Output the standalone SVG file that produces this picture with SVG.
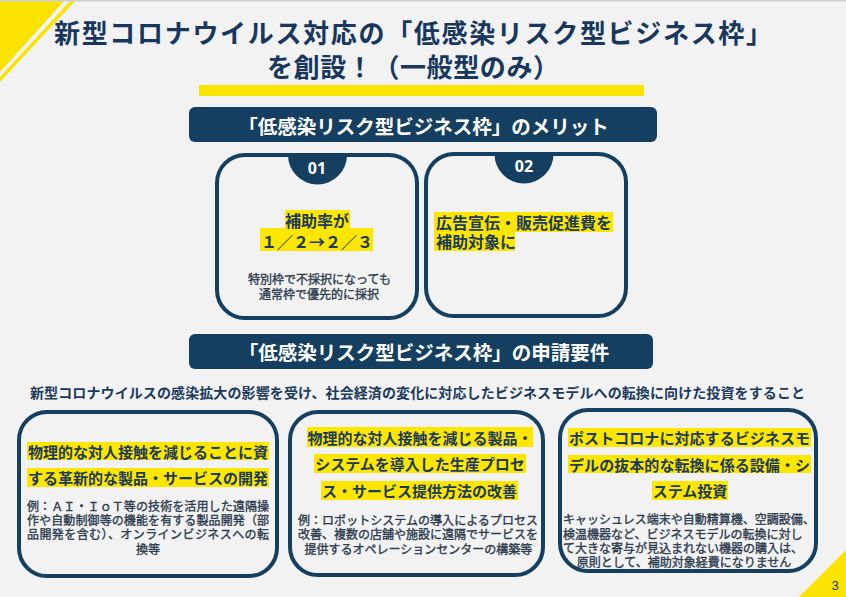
<svg xmlns="http://www.w3.org/2000/svg" width="846" height="597" viewBox="0 0 846 597">
<style>
text{font-family:"Noto Sans CJK JP","Noto Sans CJK SC",sans-serif;}
.bg{fill:#f2f2f2;}
.deco{fill:#fbe300;}
.hdr{fill:#143f60;}
.hdrt{fill:#ffffff;font-weight:700;font-size:19.5px;text-anchor:middle;dominant-baseline:central;}
.box{fill:none;stroke:#143f60;stroke-width:4;}
.tab{fill:#143f60;}
.tabt{fill:#ffffff;font-weight:700;font-size:16px;text-anchor:middle;dominant-baseline:central;font-family:"Noto Sans","Liberation Sans",sans-serif;}
.hl{fill:#fde600;}
.ht{fill:#1b3a5c;font-weight:700;font-size:15px;dominant-baseline:central;}
.m{text-anchor:middle;}
.st{fill:#2c3b4e;stroke:#2c3b4e;stroke-width:0.35px;font-weight:400;font-size:12px;dominant-baseline:central;}
.title{fill:#17375e;font-weight:700;font-size:26px;text-anchor:middle;dominant-baseline:central;}
</style>
<rect class="bg" x="0" y="0" width="846" height="597"/>
<g id="decoration">
<polygon class="deco" points="0,0 65,0 0,72"/>
<polygon class="deco" points="71,0 76,0 0,82 0,77"/>
<polygon class="deco" points="846,550 846,597 799,597"/>
<rect x="0" y="0" width="846" height="1.5" fill="#cfcfcf"/>
<text x="835" y="585" font-size="13" fill="#1f3864" text-anchor="middle" dominant-baseline="central" style="font-family:'Liberation Sans',sans-serif">3</text>
</g>
<g id="title">
<text class="title" x="413" y="31" textLength="718" lengthAdjust="spacing">新型コロナウイルス対応の「低感染リスク型ビジネス枠」</text>
<text class="title" x="413" y="65" textLength="292" lengthAdjust="spacing">を創設！（一般型のみ）</text>
<rect class="deco" x="199" y="85" width="445" height="11"/>
</g>
<g id="merit-header">
<rect class="hdr" x="189" y="107" width="468" height="35" rx="6"/>
<text class="hdrt" x="423.5" y="125">「低感染リスク型ビジネス枠」のメリット</text>
</g>
<g id="merit-01">
<rect class="box" x="217" y="155" width="200" height="163" rx="28"/>
<path class="tab" d="M288,155 A29.5,29.5 0 0 0 347,155 Z"/>
<text class="tabt" x="317" y="168">01</text>
<rect class="hl" x="285" y="210" width="65" height="18"/>
<rect class="hl" x="260" y="228" width="113" height="23"/>
<text class="ht m" x="317" y="220" style="font-size:16px">補助率が</text>
<text class="ht m" x="317" y="241" style="font-size:16px">１／２→２／３</text>
<text class="st m" x="319.5" y="278">特別枠で不採択になっても</text>
<text class="st m" x="319" y="293">通常枠で優先的に採択</text>
</g>
<g id="merit-02">
<rect class="box" x="426" y="154" width="200" height="162" rx="28"/>
<path class="tab" d="M494.5,154 A29.5,29.5 0 0 0 553.5,154 Z"/>
<text class="tabt" x="524" y="166">02</text>
<rect class="hl" x="434" y="212" width="179" height="20"/>
<rect class="hl" x="434" y="232" width="81" height="19"/>
<text class="ht" x="436" y="222" style="font-size:16px">広告宣伝・販売促進費を</text>
<text class="ht" x="436" y="241" style="font-size:16px">補助対象に</text>
</g>
<g id="req-header">
<rect class="hdr" x="189" y="334" width="464" height="35" rx="6"/>
<text class="hdrt" x="424" y="351.5">「低感染リスク型ビジネス枠」の申請要件</text>
</g>
<g id="req-summary">
<text x="417.5" y="392" font-size="14" font-weight="700" fill="#1b3a5c" text-anchor="middle" dominant-baseline="central" textLength="775" lengthAdjust="spacing">新型コロナウイルスの感染拡大の影響を受け、社会経済の変化に対応したビジネスモデルへの転換に向けた投資をすること</text>
</g>
<g id="req-a">
<rect class="box" x="19" y="412" width="258" height="164" rx="28"/>
<rect class="hl" x="27" y="442" width="242" height="18"/>
<rect class="hl" x="27" y="468" width="242" height="19"/>
<text class="ht m" x="148" y="451" textLength="240" lengthAdjust="spacing">物理的な対人接触を減じることに資</text>
<text class="ht m" x="148" y="477.5" textLength="240" lengthAdjust="spacing">する革新的な製品・サービスの開発</text>
<text class="st m" x="148" y="505.5" textLength="242" lengthAdjust="spacing">例：ＡＩ・ＩｏＴ等の技術を活用した遠隔操</text>
<text class="st m" x="148" y="519" textLength="242" lengthAdjust="spacing">作や自動制御等の機能を有する製品開発（部</text>
<text class="st m" x="148" y="533" textLength="242" lengthAdjust="spacing">品開発を含む）、オンラインビジネスへの転</text>
<text class="st m" x="148" y="548">換等</text>
</g>
<g id="req-b">
<rect class="box" x="290" y="412" width="253" height="163" rx="28"/>
<rect class="hl" x="307" y="427" width="226" height="20"/>
<rect class="hl" x="314" y="454" width="212" height="19"/>
<rect class="hl" x="321" y="481" width="197" height="19"/>
<text class="ht m" x="420" y="437">物理的な対人接触を減じる製品・</text>
<text class="ht m" x="420" y="463.5">システムを導入した生産プロセ</text>
<text class="ht m" x="419.5" y="490.5">ス・サービス提供方法の改善</text>
<text class="st m" x="418" y="519" textLength="240" lengthAdjust="spacing">例：ロボットシステムの導入によるプロセス</text>
<text class="st m" x="418" y="533" textLength="240" lengthAdjust="spacing">改善、複数の店舗や施設に遠隔でサービスを</text>
<text class="st m" x="418.5" y="548">提供するオペレーションセンターの構築等</text>
</g>
<g id="req-c">
<rect class="box" x="560" y="410" width="256" height="161" rx="28"/>
<rect class="hl" x="568" y="428" width="243" height="19"/>
<rect class="hl" x="568" y="455" width="243" height="18"/>
<rect class="hl" x="652" y="481" width="76" height="19"/>
<text class="ht m" x="689.5" y="437.5" textLength="241" lengthAdjust="spacing">ポストコロナに対応するビジネスモ</text>
<text class="ht m" x="689.5" y="464" textLength="241" lengthAdjust="spacing">デルの抜本的な転換に係る設備・シ</text>
<text class="ht m" x="690" y="490.5">ステム投資</text>
<text class="st" x="563" y="518">キャッシュレス端末や自動精算機、空調設備、</text>
<text class="st" x="563" y="533">検温機器など、ビジネスモデルの転換に対し</text>
<text class="st" x="563" y="547">て大きな寄与が見込まれない機器の購入は、</text>
<text class="st m" x="684" y="561">原則として、補助対象経費になりません</text>
</g>
<g id="connectors"/>
</svg>
